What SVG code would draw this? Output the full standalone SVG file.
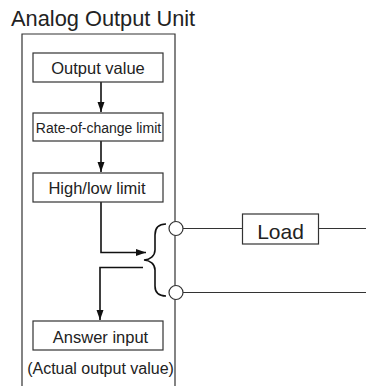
<svg xmlns="http://www.w3.org/2000/svg" width="366" height="386" viewBox="0 0 366 386">
<defs>
<style>
.t{font-family:"Liberation Sans",Arial,sans-serif;fill:#222;}
.box{fill:#fff;stroke:#333;stroke-width:1.2;}
.ln{fill:none;stroke:#333;stroke-width:1.2;}
.w{fill:none;stroke:#111;stroke-width:1.6;}
</style>
<marker id="ah" viewBox="0 0 10 10" refX="10" refY="5" markerWidth="10" markerHeight="10" markerUnits="userSpaceOnUse" orient="auto">
<path d="M0,1.5 L10,5 L0,8.5 Z" fill="#111"/>
</marker>
</defs>
<rect width="366" height="386" fill="#fff"/>
<text class="t" x="11" y="25.5" font-size="21.8">Analog Output Unit</text>
<g id="unit">
<path class="ln" d="M22,387 V34 H175 V387"/>
</g>
<g id="connectors">
<path class="w" d="M101,82 V112" marker-end="url(#ah)"/>
<path class="w" d="M101,141 V172" marker-end="url(#ah)"/>
<path class="w" d="M101,202 V252.5 H146" marker-end="url(#ah)"/>
<path class="w" d="M143,267.5 H100 V320" marker-end="url(#ah)"/>
<path class="w" d="M166,224 C158,224 155,228 155,235 V250 C155,256 150,259.5 144,260 C150,260.5 155,264 155,270 V286 C155,292 158,296 166,296"/>
<path class="ln" d="M183,228.5 H242.5 M318.5,228.5 H366 M183,292.5 H366"/>
</g>
<g id="terminal1"><circle class="box" cx="176" cy="228.5" r="7"/></g>
<g id="terminal2"><circle class="box" cx="176" cy="292.5" r="7"/></g>
<g id="output-value">
<rect class="box" x="33" y="53" width="130" height="29"/>
<text class="t" x="98" y="73.5" font-size="16.5" text-anchor="middle">Output value</text>
</g>
<g id="rate-limit">
<rect class="box" x="33" y="113" width="130" height="28"/>
<text class="t" x="98.5" y="132.5" font-size="14" text-anchor="middle">Rate-of-change limit</text>
</g>
<g id="high-low">
<rect class="box" x="33" y="173" width="130" height="29"/>
<text class="t" x="97" y="194" font-size="16.5" text-anchor="middle">High/low limit</text>
</g>
<g id="answer-input">
<rect class="box" x="33" y="321" width="130" height="29"/>
<text class="t" x="100.5" y="342.5" font-size="16.5" text-anchor="middle">Answer input</text>
<text class="t" x="100.5" y="373.5" font-size="16" text-anchor="middle">(Actual output value)</text>
</g>
<g id="load">
<rect class="box" x="242.5" y="214" width="76" height="30"/>
<text class="t" x="280.5" y="239" font-size="21" text-anchor="middle">Load</text>
</g>
</svg>
